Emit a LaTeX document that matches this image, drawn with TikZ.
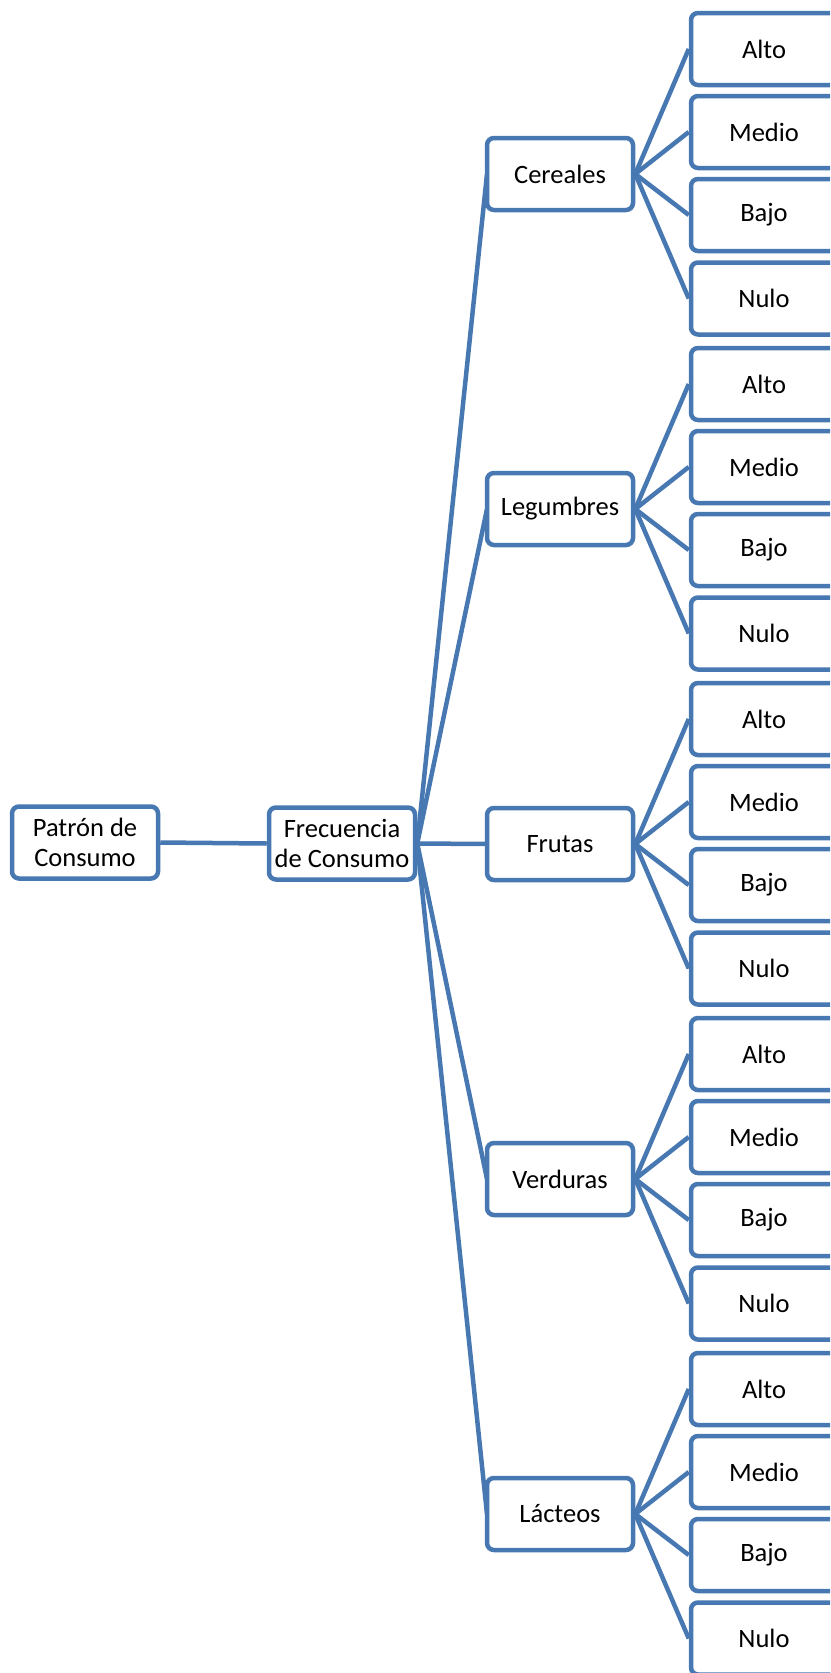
\documentclass[tikz,border=0pt]{standalone}
\usepackage{fontspec}
\setmainfont{Carlito}
\definecolor{lineblue}{RGB}{72,120,178}
\begin{document}
\begin{tikzpicture}[x=1pt,y=-1pt,
  box/.style={draw=lineblue,line width=4.5pt,rounded corners=7pt,fill=white,
    minimum width=146pt,minimum height=72pt,inner sep=0pt,align=center,
    font=\fontsize{26.5}{29.5}\selectfont},
  conn/.style={draw=lineblue,line width=4.5pt}]
\useasboundingbox (0,0) rectangle (830,1673);
\clip (0,0) rectangle (830,1673);
\node[box] (p) at (85,842.5) {Patrón de\\Consumo};
\node[box] (f) at (342,843.5) {Frecuencia\\de Consumo};
\draw[conn] (p.east) -- (f.west);
\foreach \name/\lab/\cy in {c1/Cereales/174, c2/Legumbres/509, c3/Frutas/844, c4/Verduras/1179, c5/Lácteos/1514}{
  \draw[conn] (f.east) -- (560-73,\cy);
  \node[box] (\name) at (560,\cy) {\lab};
  \foreach \lname/\off in {Alto/-125, Medio/-42, Bajo/41, Nulo/124.5}{
    \node[box] (\name-\lname) at (764,\cy+\off) {\lname};
    \draw[conn] (\name.east) -- (\name-\lname.west);
  }
}
\end{tikzpicture}
\end{document}
